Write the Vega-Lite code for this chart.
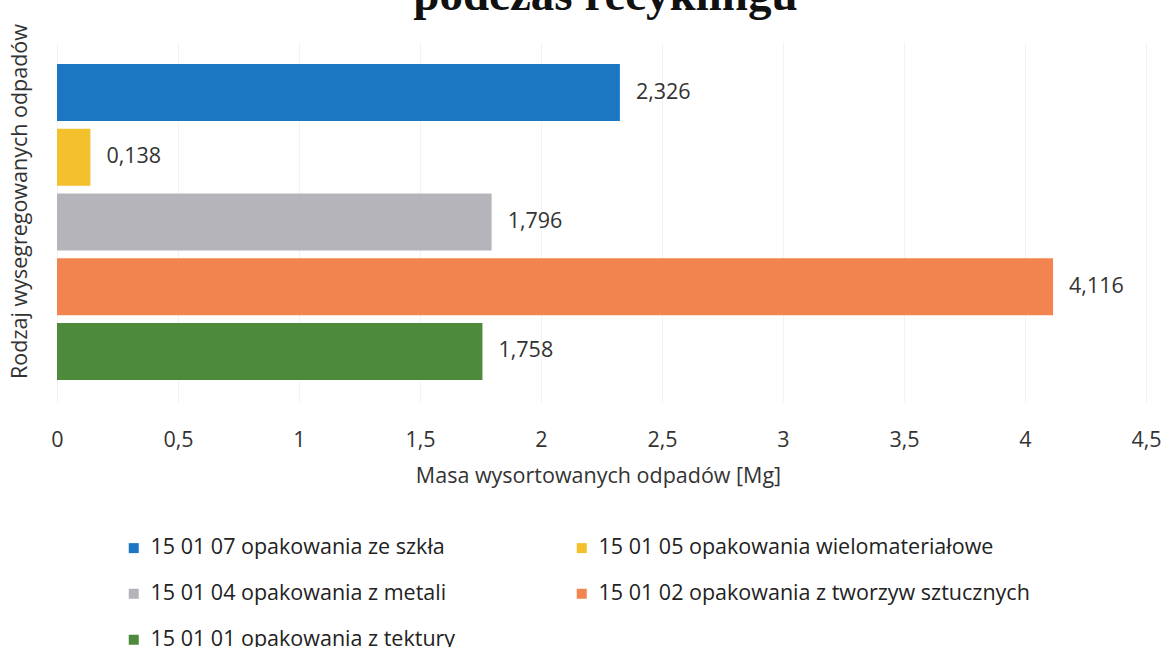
{
  "$schema": "https://vega.github.io/schema/vega-lite/v6.json",
  "autosize": {"type": "none"},
  "width": 1089,
  "height": 360,
  "padding": {"left": 57, "top": 42, "right": 15, "bottom": 245},
  "background": "white",
  "title": {
    "text": "podczas recyklingu",
    "font": "Liberation Serif",
    "fontSize": 47,
    "fontWeight": "bold",
    "color": "#111111",
    "anchor": "middle",
    "baseline": "alphabetic",
    "offset": 5,
    "dx": 4,
    "dy": 38
  },
  "data": {
    "values": [
      {"kategoria": "15 01 07 opakowania ze szkła", "masa": 2.326},
      {"kategoria": "15 01 05 opakowania wielomateriałowe", "masa": 0.138},
      {"kategoria": "15 01 04 opakowania z metali", "masa": 1.796},
      {"kategoria": "15 01 02 opakowania z tworzyw sztucznych", "masa": 4.116},
      {"kategoria": "15 01 01  opakowania z tektury", "masa": 1.758}
    ]
  },
  "encoding": {
    "y": {
      "field": "kategoria",
      "type": "nominal",
      "sort": null,
      "scale": {"paddingInner": 0.12, "paddingOuter": 0.34},
      "axis": {
        "title": "Rodzaj wysegregowanych odpadów",
        "labels": false,
        "ticks": false,
        "domain": false,
        "titleFont": "Open Sans",
        "titleFontSize": 21.5,
        "titleFontWeight": "normal",
        "titleColor": "#333333",
        "titleX": -26,
        "titleY": 159,
        "titleAlign": "center",
        "titleAngle": -90,
        "titleBaseline": "bottom"
      }
    },
    "x": {
      "field": "masa",
      "type": "quantitative",
      "scale": {"domain": [0, 4.5], "nice": false},
      "axis": {
        "title": "Masa  wysortowanych odpadów [Mg]",
        "values": [0, 0.5, 1, 1.5, 2, 2.5, 3, 3.5, 4, 4.5],
        "format": "~g",
        "domain": false,
        "ticks": false,
        "grid": true,
        "gridColor": "#f3f3f3",
        "labelFont": "Open Sans",
        "labelFontSize": 21.5,
        "labelColor": "#333333",
        "labelPadding": 27,
        "labelFlush": false,
        "titleFont": "Open Sans",
        "titleFontSize": 21.5,
        "titleFontWeight": "normal",
        "titleColor": "#333333",
        "titlePadding": 15,
        "titleX": 541
      }
    }
  },
  "layer": [
    {
      "mark": {"type": "bar"},
      "encoding": {
        "color": {
          "field": "kategoria",
          "type": "nominal",
          "sort": null,
          "scale": {
            "domain": [
              "15 01 07 opakowania ze szkła",
              "15 01 05 opakowania wielomateriałowe",
              "15 01 04 opakowania z metali",
              "15 01 02 opakowania z tworzyw sztucznych",
              "15 01 01  opakowania z tektury"
            ],
            "range": ["#1c77c3", "#f2c12c", "#b5b4ba", "#f1844f", "#4e8a3c"]
          },
          "legend": {
            "title": null,
            "orient": "none",
            "legendX": 66,
            "legendY": 495,
            "direction": "horizontal",
            "columns": 2,
            "columnPadding": 110,
            "rowPadding": 23,
            "symbolType": "square",
            "symbolSize": 100,
            "symbolStrokeWidth": 0,
            "labelFont": "Open Sans",
            "labelFontSize": 21.5,
            "labelColor": "#222222",
            "labelOffset": 6,
            "labelLimit": 700
          }
        }
      }
    },
    {
      "mark": {
        "type": "text",
        "align": "left",
        "baseline": "middle",
        "dx": 16,
        "font": "Open Sans",
        "fontSize": 21.5,
        "color": "#333333"
      },
      "encoding": {
        "text": {"field": "masa", "type": "quantitative", "format": ".3f"}
      }
    }
  ],
  "config": {
    "view": {"stroke": null},
    "locale": {
      "number": {
        "decimal": ",",
        "thousands": " ",
        "grouping": [3],
        "currency": ["", " zł"]
      }
    }
  }
}
